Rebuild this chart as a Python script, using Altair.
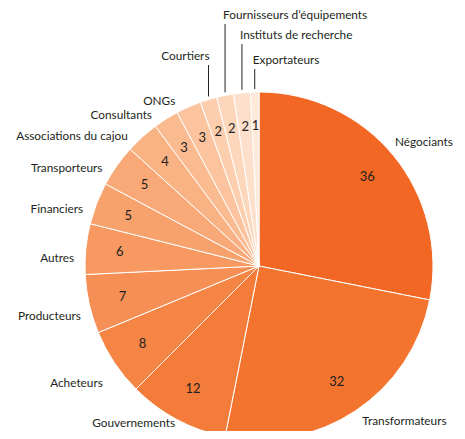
import math
import altair as alt
import pandas as pd

# ---- data ----
categories = [
    "Négociants", "Transformateurs", "Gouvernements", "Acheteurs", "Producteurs",
    "Autres", "Financiers", "Transporteurs", "Associations du cajou", "Consultants",
    "ONGs", "Courtiers", "Fournisseurs d’équipements", "Instituts de recherche",
    "Exportateurs",
]
values = [36, 32, 12, 8, 7, 6, 5, 5, 4, 3, 3, 2, 2, 2, 1]

# ---- style / layout ----
colors = [
    "#F26724", "#F3742F", "#F47C3A", "#F58545", "#F68F55",
    "#F79961", "#F7A16D", "#F8A977", "#F9B283", "#FABB91",
    "#FBC49E", "#FCCEAD", "#FDD7BC", "#FDE0CB", "#FEE9DB",
]
W, H = 449, 423
CX, CY = 251, 258
R = 174
NUM_R = 140
FONT = "Lato"
FS = 11.8
TXT = "#231F20"
DEFAULT_LABEL_R = 185
DEFAULT_LEFT_SHIFT = -3   # degrees
DEFAULT_RIGHT_SHIFT = 0
label_radius = {"Négociants": 184, "Transformateurs": 186, "Gouvernements": 178, "Acheteurs": 195}
label_shift = {"Négociants": -3, "Gouvernements": 0}
leader_label_y = {
    "Courtiers": 48,
    "Fournisseurs d’équipements": 7,
    "Instituts de recherche": 27,
    "Exportateurs": 52,
}
leader_right = ["Courtiers"]
TOTAL = sum(values)

rows = []
cum = 0
for i, (c, v) in enumerate(zip(categories, values)):
    right_side = (cum + v / 2) < TOTAL / 2
    shift = label_shift.get(c, DEFAULT_RIGHT_SHIFT if right_side else DEFAULT_LEFT_SHIFT)
    rows.append({
        "category": c,
        "value": v,
        "order": i,
        "label_y": leader_label_y.get(c),
        "label_r": label_radius.get(c, DEFAULT_LABEL_R),
        "shift": shift / 360 * TOTAL,
    })
    cum += v
df = pd.DataFrame(rows)

theta_scale = alt.Scale(domain=[0, TOTAL], range=[0, 2 * math.pi])
color = alt.Color("category:N", scale=alt.Scale(domain=categories, range=colors), legend=None)

base = (
    alt.Chart(df)
    .transform_window(cum="sum(value)", sort=[alt.SortField("order")], frame=[None, 0])
    .transform_calculate(
        start="datum.cum - datum.value",
        mid="datum.cum - datum.value / 2",
        ang=f"2 * PI * (datum.cum - datum.value / 2) / {TOTAL}",
        lmid="datum.cum - datum.value / 2 + datum.shift",
    )
)

arcs = base.mark_arc(outerRadius=R, stroke="white", strokeWidth=1).encode(
    theta=alt.Theta("start:Q", scale=theta_scale, stack=False),
    theta2=alt.Theta2("cum:Q"),
    color=color,
    x=alt.value(CX),
    y=alt.value(CY),
)

nums = base.mark_text(radius=NUM_R, font=FONT, fontSize=13, color=TXT,
                      align="center", baseline="middle").encode(
    theta=alt.Theta("mid:Q", scale=theta_scale, stack=False),
    text="value:Q",
    x=alt.value(CX),
    y=alt.value(CY),
)

right_labels = base.transform_filter(
    f"!isValid(datum.label_y) && datum.mid < {TOTAL / 2}"
).mark_text(font=FONT, fontSize=FS, color=TXT, align="left", baseline="middle").encode(
    theta=alt.Theta("lmid:Q", scale=theta_scale, stack=False),
    radius=alt.Radius("label_r:Q", scale=None),
    text="category:N",
    x=alt.value(CX),
    y=alt.value(CY),
)

left_labels = base.transform_filter(
    f"!isValid(datum.label_y) && datum.mid >= {TOTAL / 2}"
).mark_text(font=FONT, fontSize=FS, color=TXT, align="right", baseline="middle").encode(
    theta=alt.Theta("lmid:Q", scale=theta_scale, stack=False),
    radius=alt.Radius("label_r:Q", scale=None),
    text="category:N",
    x=alt.value(CX),
    y=alt.value(CY),
)

leaders = base.transform_filter("isValid(datum.label_y)").transform_calculate(
    lx=f"{CX} + {R} * sin(datum.ang)",
    ly1="datum.label_y + 9",
    ly2=f"{CY} - {R} * cos(datum.ang) - 3",
)

leader_rules = leaders.mark_rule(color=TXT, strokeWidth=1).encode(
    x=alt.X("lx:Q", scale=None),
    y=alt.Y("ly1:Q", scale=None),
    y2="ly2:Q",
)

leader_text_left = leaders.transform_filter(
    alt.FieldOneOfPredicate(field="category", oneOf=leader_right)
).mark_text(font=FONT, fontSize=FS, color=TXT, align="right", baseline="middle", dx=1).encode(
    x=alt.X("lx:Q", scale=None),
    y=alt.Y("label_y:Q", scale=None),
    text="category:N",
)

leader_text_right = leaders.transform_filter(
    {"not": alt.FieldOneOfPredicate(field="category", oneOf=leader_right).to_dict()}
).mark_text(font=FONT, fontSize=FS, color=TXT, align="left", baseline="middle", dx=-2).encode(
    x=alt.X("lx:Q", scale=None),
    y=alt.Y("label_y:Q", scale=None),
    text="category:N",
)

chart = (
    alt.layer(arcs, nums, right_labels, left_labels, leader_rules,
              leader_text_left, leader_text_right)
    .properties(width=W, height=H, padding=0, autosize=alt.AutoSizeParams(type="none"))
    .configure_view(stroke=None)
)

chart.save("out.html", embed_options={"renderer": "svg", "actions": False})
